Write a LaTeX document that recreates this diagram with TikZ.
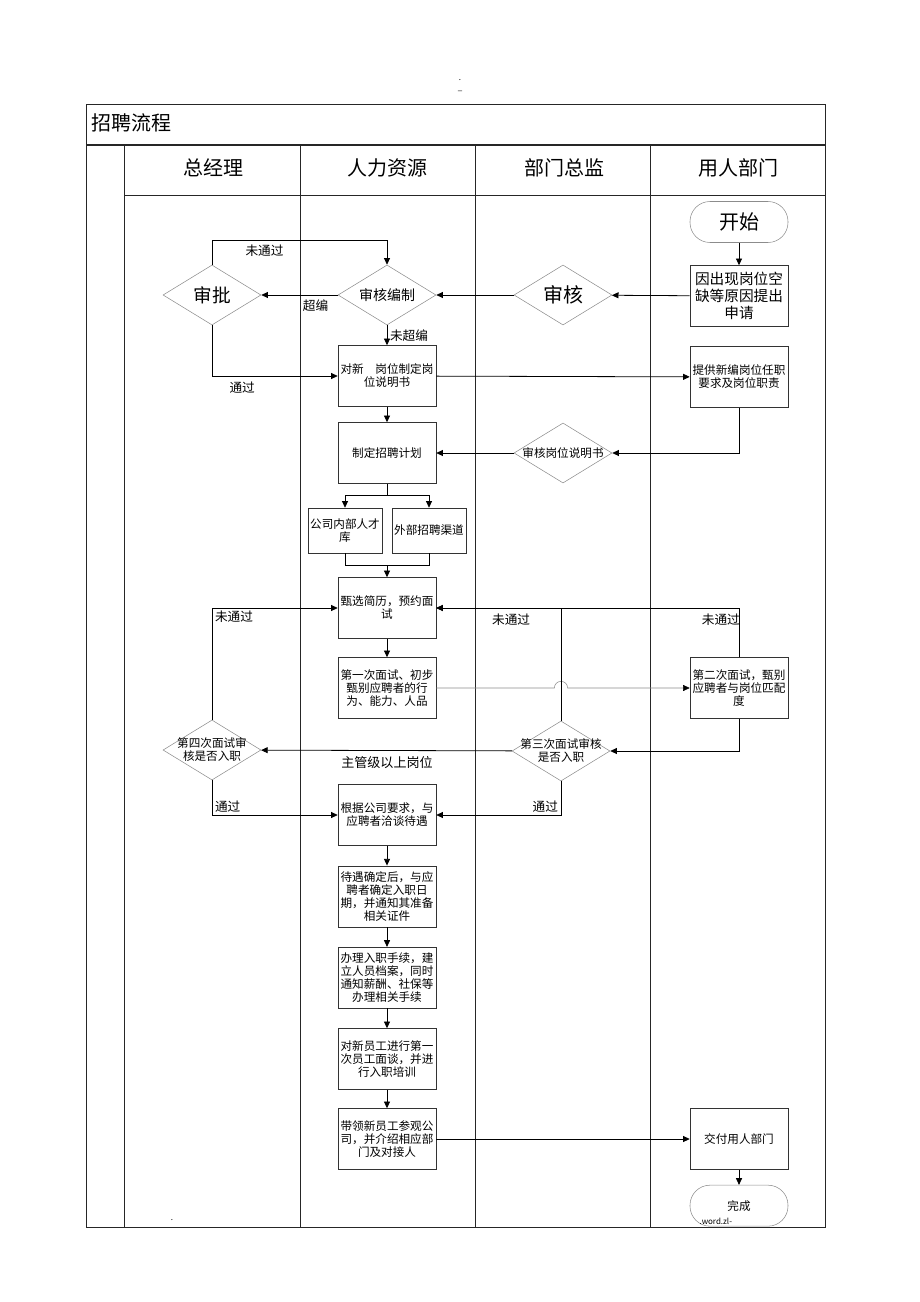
\documentclass[tikz,border=0pt]{standalone}
\usepackage{fontspec}
\setmainfont{Noto Sans CJK SC}
\usetikzlibrary{positioning,shapes.geometric,arrows.meta}

\newcommand{\stepfont}{\fontsize{8.7pt}{9.8pt}\selectfont}
\newcommand{\bigstepfont}{\fontsize{11pt}{13pt}\selectfont}
\newcommand{\lanefont}{\fontsize{15pt}{18pt}\selectfont}
\newcommand{\tagfont}{\fontsize{9.5pt}{11pt}\selectfont}
\newcommand{\markfont}{\fontsize{6pt}{7pt}\selectfont}

\begin{document}
\begin{tikzpicture}[x=0.75pt,y=-0.75pt]
% Define styles for nodes and edges
\tikzstyle{process} = [rectangle, draw=black!80, minimum width=73.5pt, minimum height=45.75pt, inner sep=0pt, align=center, font=\stepfont]
\tikzstyle{smallbox} = [rectangle, draw=black!80, minimum width=55.5pt, minimum height=33.75pt, inner sep=0pt, align=center, font=\stepfont]
\tikzstyle{decision} = [diamond, draw=black!45, minimum width=73.5pt, minimum height=45pt, inner sep=0pt]
\tikzstyle{terminal} = [rectangle, rounded corners=15pt, draw=black!45, minimum width=73.5pt, minimum height=30.75pt, font=\lanefont]
\tikzstyle{dtext} = [align=center, inner sep=0pt, font=\stepfont]
\tikzstyle{tag} = [font=\tagfont, inner sep=2pt]
\tikzstyle{arrow} = [line width=0.6pt, ->, >={Triangle[length=5pt,width=4.5pt]}]
\tikzstyle{link} = [line width=0.6pt]
\tikzstyle{grid} = [line width=0.6pt, black!85]

\useasboundingbox (0,0) rectangle (920,1302);

% Table
\draw[grid] (86,104) rectangle (825,1227);
\draw[grid, line width=1.2pt] (86,145) -- (825,145);
\draw[grid] (124,195) -- (825,195);
\foreach \x in {124,300,475,650}
  \draw[grid] (\x,145) -- (\x,1227);

\node[anchor=west, font=\lanefont] (title) at (87,123) {招聘流程};
\node[font=\lanefont] (gm) at (213,168) {总经理};
\node[font=\lanefont] (hr) at (387,168) {人力资源};
\node[font=\lanefont] (dir) at (564,168) {部门总监};
\node[font=\lanefont] (dept) at (738,168) {用人部门};

\node[font=\markfont] (dot) at (460,80) {.};
\node[font=\markfont] (dash) at (460,91) {\_};
\node[font=\markfont] (dotb) at (172,1220) {.};

% Nodes
\node[terminal] (start) at (739,222) {开始};
\node[process, font=\bigstepfont] (apply) at (739,296) {因出现岗位空\\缺等原因提出\\申请};
\node[decision, label={[dtext, font=\lanefont]center:审核}] (check) at (563,295) {};
\node[decision, label={[dtext, font=\fontsize{10.5pt}{12pt}\selectfont]center:审核编制}] (quota) at (387,295) {};
\node[decision, label={[dtext, font=\fontsize{14pt}{16pt}\selectfont]center:审批}] (approve) at (212,295) {};
\node[process] (jobdesc) at (387,376) {对新　岗位制定岗\\位说明书};
\node[process] (require) at (739,377) {提供新编岗位任职\\要求及岗位职责};
\node[decision, label={[dtext]center:审核岗位说明书}] (review) at (563,453) {};
\node[process] (plan) at (387,453) {制定招聘计划};
\node[smallbox] (inner) at (345,530.5) {公司内部人才\\库};
\node[smallbox] (outer) at (429,530.5) {外部招聘渠道};
\coordinate (split) at (387,495);
\coordinate (merge) at (387,565);
\node[process] (screen) at (387,608) {甄选简历，预约面\\试};
\node[process] (first) at (387,688) {第一次面试、初步\\甄别应聘者的行\\为、能力、人品};
\node[process, right of=first, node distance=264pt] (second) {第二次面试，甄别\\应聘者与岗位匹配\\度};
\node[decision, label={[dtext]center:第三次面试审核\\是否入职}] (third) at (561,751) {};
\node[decision, label={[dtext]center:第四次面试审\\核是否入职}] (fourth) at (212,750) {};
\node[font=\fontsize{9.8pt}{11pt}\selectfont] (level) at (387,763) {主管级以上岗位};
\node[process] (salary) at (387,815) {根据公司要求，与\\应聘者洽谈待遇};
\node[process, below of=salary, node distance=61pt] (entry) {待遇确定后，与应\\聘者确定入职日\\期，并通知其准备\\相关证件};
\node[process, below of=entry, node distance=61pt] (formal) {办理入职手续，建\\立人员档案，同时\\通知薪酬、社保等\\办理相关手续};
\node[process, below of=formal, node distance=61pt] (talk) {对新员工进行第一\\次员工面谈，并进\\行入职培训};
\node[process, below of=talk, node distance=60pt] (tour) {带领新员工参观公\\司，并介绍相应部\\门及对接人};
\node[process, right of=tour, node distance=264pt] (deliver) {交付用人部门};
\node[terminal, font=\stepfont, below of=deliver, node distance=50pt] (finish) {完成};
\node[font=\markfont, anchor=west] (site) at (695,1221) {.word.zl-};

% Edges
\draw[arrow] (start) -- (apply);
\draw[arrow] (apply) -- (check);
\draw[arrow] (check) -- (quota);
\draw[arrow] (quota) -- node[tag, pos=0.29, below=1pt] {超编} (approve);
\draw[arrow] (approve.north) -- ++(0,-24) -| node[tag, pos=0.15, below=1pt] {未通过} (quota.north);
\draw[arrow] (quota) -- node[tag, right] {未超编} (jobdesc);
\draw[arrow] (approve.south) |- node[tag, pos=0.62, below=2pt] {通过} (jobdesc.west);
\draw[arrow] (jobdesc) -- (require);
\draw[arrow] (require.south) |- (review.east);
\draw[arrow] (review) -- (plan);
\draw[arrow] (jobdesc) -- (plan);
\draw[link] (plan.south) -- (split);
\draw[arrow] (split) -| (inner.north);
\draw[arrow] (split) -| (outer.north);
\draw[link] (inner.south) |- (merge);
\draw[link] (outer.south) |- (merge);
\draw[arrow] (merge) -- (screen);
\draw[arrow] (screen) -- (first);
\coordinate (hop) at (third.north |- first.east);
\draw[arrow, black!45, line width=0.4pt, -{Triangle[length=5pt,width=4.5pt,color=black]}] (first.east) -- ([xshift=-5pt]hop) arc[start angle=180, end angle=0, radius=5pt] -- (second.west);
\draw[arrow] (second.south) |- (third.east);
\draw[arrow] (third) -- (fourth);
\draw[arrow] (third.north) |- node[tag, pos=0.7, below=2pt] {未通过} (screen.east);
\draw[arrow] (second.north) |- node[tag, pos=0.53, below=2pt] {未通过} (screen.east);
\draw[arrow] (fourth.north) |- node[tag, pos=0.5, below right] {未通过} (screen.west);
\draw[arrow] (fourth.south) |- node[tag, pos=0.5, above right] {通过} (salary.west);
\draw[arrow] (third.south) |- node[tag, pos=0.5, above left] {通过} (salary.east);
\draw[arrow] (salary) -- (entry);
\draw[arrow] (entry) -- (formal);
\draw[arrow] (formal) -- (talk);
\draw[arrow] (talk) -- (tour);
\draw[arrow] (tour) -- (deliver);
\draw[arrow] (deliver) -- (finish);
\end{tikzpicture}
\end{document}
